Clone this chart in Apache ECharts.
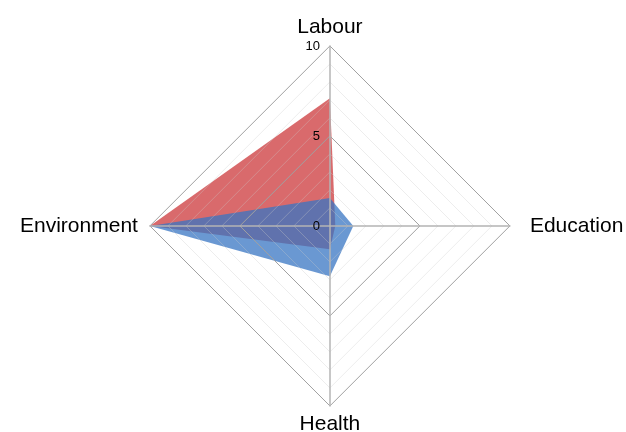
<!DOCTYPE html>
<html><head><meta charset="utf-8">
<script src="https://cdn.jsdelivr.net/npm/echarts@6/dist/echarts.min.js"></script>
<style>html,body{margin:0;padding:0;background:#fff}#c{width:626px;height:432px}</style>
</head><body><div id="c"></div>
<script>
const indicators = ['Labour', 'Education', 'Health', 'Environment'];
const maxValue = 10;
const tickLabels = ['0', '5', '10'];
const seriesRed = [7.1, 0.3, 1.3, 10];
const seriesBlue = [1.55, 1.3, 2.8, 10];

// ECharts radar runs counter-clockwise; reorder so the chart reads clockwise
const order = [0, 3, 2, 1];
const pick = arr => order.map(i => arr[i]);

const ringColors = [];
for (let i = 0; i <= 10; i++) ringColors.push(i % 5 === 0 ? '#a0a0a0' : 'rgba(200,200,200,0.35)');

const nameStyle = { color: '#000', fontSize: 21, fontFamily: 'Liberation Sans' };

const chart = echarts.init(document.getElementById('c'));
chart.setOption({
  animation: false,
  radar: {
    z: 3,
    center: ['52.7%', '52.3%'],
    radius: 180,
    startAngle: 90,
    shape: 'polygon',
    splitNumber: 10,
    axisName: {
      color: '#000', fontSize: 21, fontFamily: 'Liberation Sans',
      formatter: n => n === 'Education' ? '{r|' + n + '}' : n === 'Environment' ? '{l|' + n + '}' : n,
      rich: {
        r: Object.assign({ padding: [0, 0, 0, 12] }, nameStyle),
        l: Object.assign({ padding: [0, 4, 0, 0] }, nameStyle)
      }
    },
    nameGap: 8,
    indicator: pick(indicators).map((n, i) => {
      const o = { name: n, min: 0, max: maxValue };
      if (i === 0) o.axisLabel = {
        show: true, color: '#000', fontSize: 13, fontFamily: 'Liberation Sans', margin: 10,
        formatter: v => tickLabels.indexOf(String(v)) >= 0 ? String(v) : ''
      };
      return o;
    }),
    axisLabel: { show: false },
    axisLine: { lineStyle: { color: '#b4b4b4', width: 1.5 } },
    splitLine: { lineStyle: { color: ringColors, width: 1 } },
    splitArea: { show: false }
  },
  series: [{
    type: 'radar',
    symbol: 'none',
    z: 1,
    data: [
      { value: pick(seriesRed), lineStyle: { width: 0 }, areaStyle: { color: 'rgba(204,56,59,0.75)', opacity: 1 } },
      { value: pick(seriesBlue), lineStyle: { width: 0 }, areaStyle: { color: 'rgba(56,118,195,0.75)', opacity: 1 } }
    ]
  }]
});
</script></body></html>
